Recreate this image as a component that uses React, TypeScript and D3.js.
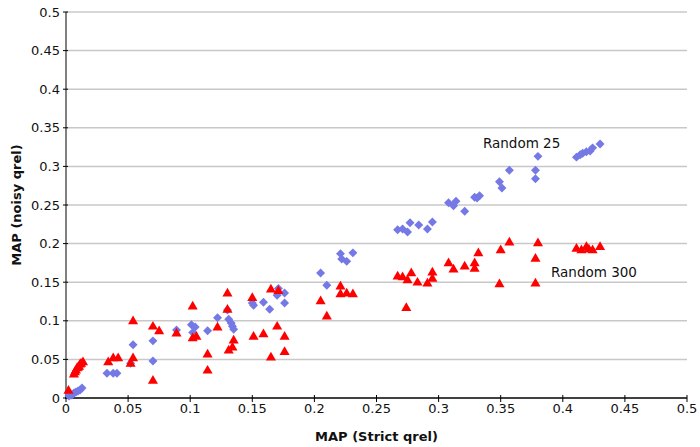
import React from 'react';
import * as d3 from 'd3';

// Random 25 (blue diamonds): [MAP strict, MAP noisy]
const random25: [number, number][] = [
  [0.0024, 0.0026], [0.004, 0.0039], [0.0048, 0.0039], [0.0064, 0.0065], [0.008, 0.0078],
  [0.0097, 0.0091], [0.0113, 0.0104], [0.0129, 0.013],
  [0.033, 0.032], [0.038, 0.032], [0.041, 0.032], [0.052, 0.045], [0.054, 0.069],
  [0.070, 0.074], [0.070, 0.048], [0.089, 0.088], [0.101, 0.095], [0.104, 0.092],
  [0.102, 0.085], [0.114, 0.087], [0.122, 0.104], [0.130, 0.114], [0.131, 0.102],
  [0.133, 0.097], [0.134, 0.093], [0.135, 0.089], [0.150, 0.123], [0.151, 0.120],
  [0.159, 0.124], [0.164, 0.115], [0.171, 0.142], [0.170, 0.133], [0.176, 0.136],
  [0.176, 0.123], [0.205, 0.162], [0.210, 0.146], [0.221, 0.187], [0.222, 0.180],
  [0.226, 0.177], [0.231, 0.188], [0.267, 0.218], [0.271, 0.219], [0.275, 0.215],
  [0.277, 0.227], [0.284, 0.224], [0.291, 0.219], [0.295, 0.228], [0.308, 0.253],
  [0.312, 0.249], [0.314, 0.255], [0.321, 0.242], [0.329, 0.260], [0.331, 0.259],
  [0.333, 0.262], [0.349, 0.280], [0.351, 0.272], [0.357, 0.295], [0.378, 0.295],
  [0.378, 0.284], [0.380, 0.313], [0.411, 0.312], [0.414, 0.315], [0.416, 0.317],
  [0.419, 0.319], [0.422, 0.320], [0.424, 0.324], [0.430, 0.329],
];

// Random 300 (red triangles)
const random300: [number, number][] = [
  [0.002, 0.010], [0.0064, 0.031], [0.0072, 0.034], [0.008, 0.036], [0.0089, 0.039],
  [0.0097, 0.040], [0.0105, 0.041], [0.0113, 0.044], [0.0121, 0.045], [0.0137, 0.047],
  [0.034, 0.047], [0.038, 0.052], [0.042, 0.052], [0.052, 0.045], [0.054, 0.052],
  [0.054, 0.100], [0.070, 0.023], [0.070, 0.093], [0.075, 0.087], [0.089, 0.084],
  [0.102, 0.119], [0.102, 0.078], [0.105, 0.080], [0.114, 0.057], [0.114, 0.036],
  [0.122, 0.092], [0.130, 0.136], [0.130, 0.115], [0.131, 0.062], [0.134, 0.066],
  [0.135, 0.075], [0.150, 0.130], [0.151, 0.080], [0.159, 0.083], [0.165, 0.053],
  [0.165, 0.141], [0.171, 0.139], [0.170, 0.093], [0.176, 0.080], [0.176, 0.060],
  [0.205, 0.126], [0.210, 0.106], [0.221, 0.145], [0.221, 0.135], [0.226, 0.136],
  [0.231, 0.135], [0.267, 0.158], [0.271, 0.157], [0.275, 0.153], [0.278, 0.162],
  [0.274, 0.117], [0.283, 0.150], [0.291, 0.149], [0.295, 0.163], [0.295, 0.155],
  [0.308, 0.175], [0.312, 0.167], [0.321, 0.171], [0.329, 0.175], [0.329, 0.168],
  [0.332, 0.188], [0.349, 0.148], [0.350, 0.192], [0.357, 0.202], [0.378, 0.149],
  [0.378, 0.181], [0.380, 0.201], [0.411, 0.194], [0.415, 0.192], [0.419, 0.196],
  [0.421, 0.193], [0.424, 0.192], [0.430, 0.196],
];

const ticks = d3.range(0, 0.5001, 0.05);
const tickLabels = ['0', '0.05', '0.1', '0.15', '0.2', '0.25', '0.3', '0.35', '0.4', '0.45', '0.5'];

const seriesLabels = [
  { text: 'Random 25', x: 0.3357, y: 0.324 },
  { text: 'Random 300', x: 0.3905, y: 0.157 },
];

const W = 700, H = 447;
const FONT = '"DejaVu Sans", Verdana, sans-serif';

export default function App() {
  const x = d3.scaleLinear().domain([0, 0.5]).range([66, 687]);
  const y = d3.scaleLinear().domain([0, 0.5]).range([398, 12]);

  const diamond = d3.symbol().type(d3.symbolSquare).size(40)();
  const triangle = d3.symbol().type(d3.symbolTriangle).size(44)();

  return (
    <svg width={W} height={H} style={{ position: 'absolute', left: 0, top: 0, background: '#fff' }}
      fontFamily={FONT}>
      {/* grid */}
      {ticks.slice(1).map((t, i) => (
        <line key={'g' + i} x1={x(0)} x2={x(0.5)} y1={y(t)} y2={y(t)} stroke="#c8c8c8" strokeWidth={1.5} />
      ))}

      {/* y axis */}
      <line x1={x(0)} x2={x(0)} y1={y(0.5)} y2={y(0)} stroke="#808080" strokeWidth={2} />
      {ticks.map((t, i) => (
        <g key={'yt' + i}>
          <line x1={x(0) - 3} x2={x(0) + 2} y1={y(t)} y2={y(t)} stroke="#000" strokeWidth={1} />
          <text x={x(0) - 6} y={y(t)} dy="0.35em" textAnchor="end" fontSize={13} fill="#111">{tickLabels[i]}</text>
        </g>
      ))}

      {/* x axis */}
      <line x1={x(0) - 1} x2={x(0.5)} y1={y(0)} y2={y(0)} stroke="#000" strokeWidth={1.5} />
      {ticks.map((t, i) => (
        <g key={'xt' + i}>
          <line x1={x(t)} x2={x(t)} y1={y(0) - 3} y2={y(0) + 4} stroke="#000" strokeWidth={1} />
          <text x={x(t)} y={y(0) + 15} textAnchor="middle" fontSize={13} fill="#111">{tickLabels[i]}</text>
        </g>
      ))}

      {/* points */}
      {random25.map((d, i) => (
        <path key={'b' + i} d={diamond ?? ''} fill="#7479e6"
          transform={`translate(${x(d[0])},${y(d[1])}) rotate(45)`} />
      ))}
      {random300.map((d, i) => (
        <path key={'r' + i} d={triangle ?? ''} fill="#ff0000"
          transform={`translate(${x(d[0])},${y(d[1]) + 0.5})`} />
      ))}

      {/* series labels */}
      {seriesLabels.map((l, i) => (
        <text key={'l' + i} x={x(l.x)} y={y(l.y)} fontSize={13.5} fill="#111">{l.text}</text>
      ))}

      {/* axis titles */}
      <text x={(x(0) + x(0.5)) / 2} y={441} textAnchor="middle" fontSize={13} fontWeight="bold" fill="#111">
        MAP (Strict qrel)
      </text>
      <text transform={`translate(21,${(y(0) + y(0.5)) / 2}) rotate(-90)`} textAnchor="middle"
        fontSize={13} fontWeight="bold" fill="#111">
        MAP (noisy qrel)
      </text>
    </svg>
  );
}
